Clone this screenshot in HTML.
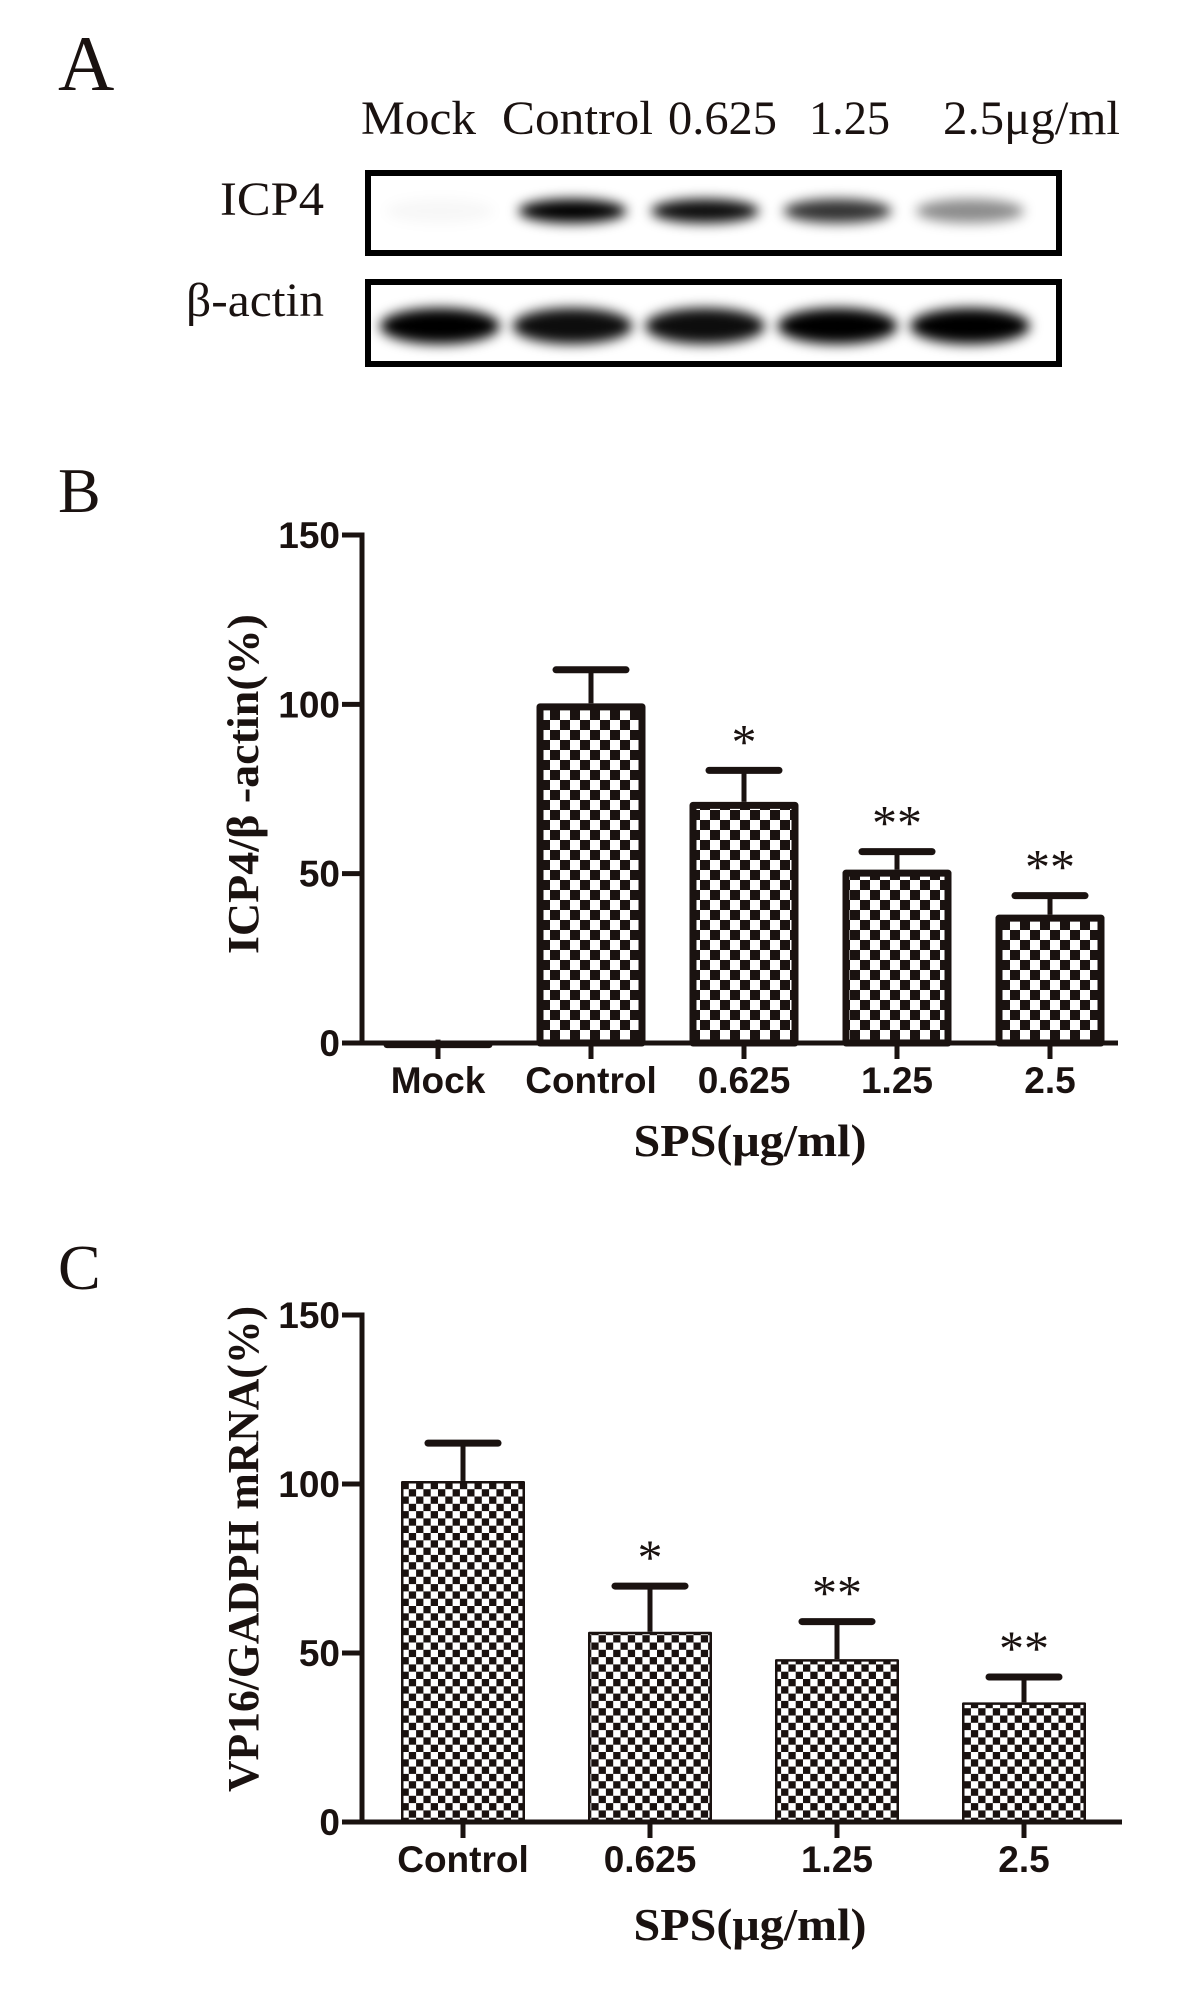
<!DOCTYPE html>
<html><head><meta charset="utf-8"><style>
html,body{margin:0;padding:0;background:#fff}
svg{display:block}
.serif{font-family:"Liberation Serif",serif}
.sans{font-family:"Liberation Sans",sans-serif;font-weight:bold}
</style></head><body>
<svg id="fig" width="1181" height="2008" viewBox="0 0 1181 2008" xmlns="http://www.w3.org/2000/svg">
<defs>
<pattern id="chkB" width="20" height="20" patternUnits="userSpaceOnUse"><rect width="20" height="20" fill="#fff"/><rect width="10" height="10" fill="#1a1210"/><rect x="10" y="10" width="10" height="10" fill="#1a1210"/></pattern>
<pattern id="chkC" width="14.6" height="14.6" patternUnits="userSpaceOnUse"><rect width="14.6" height="14.6" fill="#fff"/><rect width="7.3" height="7.3" fill="#1a1210"/><rect x="7.3" y="7.3" width="7.3" height="7.3" fill="#1a1210"/></pattern>
<filter id="blur" x="-30%" y="-80%" width="160%" height="260%"><feGaussianBlur stdDeviation="6 6"/></filter>
</defs>

<text class="serif" x="58" y="90" font-size="78" fill="#1a1210">A</text>
<g class="serif" font-size="48" fill="#1a1210">
<text x="361" y="134" textLength="115" lengthAdjust="spacingAndGlyphs">Mock</text>
<text x="502" y="134" textLength="151" lengthAdjust="spacingAndGlyphs">Control</text>
<text x="668" y="134" textLength="109" lengthAdjust="spacingAndGlyphs">0.625</text>
<text x="809" y="134" textLength="81" lengthAdjust="spacingAndGlyphs">1.25</text>
<text x="943" y="134" textLength="177" lengthAdjust="spacingAndGlyphs">2.5μg/ml</text>
<text x="220" y="215" textLength="104" lengthAdjust="spacingAndGlyphs">ICP4</text>
<text x="186" y="316" textLength="138" lengthAdjust="spacingAndGlyphs">β-actin</text>
</g>
<g id="blot"></g>

<text class="serif" x="58" y="512" font-size="64" fill="#1a1210">B</text>
<g id="chartB"></g>

<text class="serif" x="58" y="1289" font-size="64" fill="#1a1210">C</text>
<g id="chartC"></g>
</svg>
<script>
const NS="http://www.w3.org/2000/svg";
// Blot data
const blotLanes=["Mock","Control","0.625","1.25","2.5"];
const icp4Intensity=[0.03,1.0,0.95,0.8,0.45];
const actinIntensity=[1.0,0.95,0.95,1.0,1.0];
// Chart B data
const catsB=["Mock","Control","0.625","1.25","2.5"];
const valsB=[0.7,100.3,71.2,51.2,37.9];
const errB=[0.3,9.9,9.3,5.3,5.6];
const sigB=["","","*","**","**"];
const ticksB=[0,50,100,150];
// Chart C data
const catsC=["Control","0.625","1.25","2.5"];
const valsC=[100.9,56.3,48.2,35.4];
const errC=[11.2,13.5,11.1,7.5];
const sigC=["","*","**","**"];
const ticksC=[0,50,100,150];

function mk(tag,attrs,parent){const e=document.createElementNS(NS,tag);for(const k in attrs)e.setAttribute(k,attrs[k]);parent.appendChild(e);return e;}

(function(){
const g=document.getElementById('blot');
const laneX=i=>440+i*132.5;
const rows=[{y0:170,y1:256,cy:211,h:12,w:54,vals:icp4Intensity,name:'icp4'},{y0:279,y1:367,cy:326,h:18,w:60,vals:actinIntensity,name:'actin'}];
rows.forEach(r=>{
  mk('rect',{x:365,y:r.y0,width:697,height:r.y1-r.y0,fill:'#fff'},g);
  const bg=mk('g',{filter:'url(#blur)'},g);
  r.vals.forEach((v,i)=>{
    const e=mk('ellipse',{cx:laneX(i),cy:r.cy,rx:r.w,ry:r.h,fill:'#000','fill-opacity':v},bg);
    
    
  });
  const b=mk('rect',{x:368,y:r.y0+3,width:691,height:r.y1-r.y0-6,fill:'none',stroke:'#000','stroke-width':6},g);
  
  
});
})();

function drawChart(gid,o){
  const g=document.getElementById(gid);
  const y=v=>o.y0-(v/150)*(o.y0-o.y150);
  const x=i=>o.x0+i*o.step;
  const col='#1a1210';
  o.vals.forEach((v,i)=>{
    const half=o.bw/2, sw=o.bsw;
    const st=mk('line',{x1:x(i),x2:x(i),y1:y(v),y2:y(v+o.err[i]),stroke:col,'stroke-width':5},g);
    
    
    if(o.err[i]>1){
      const cp=mk('line',{x1:x(i)-35,x2:x(i)+35,y1:y(v+o.err[i]),y2:y(v+o.err[i]),stroke:col,'stroke-width':7,'stroke-linecap':'round'},g);
      
      
    }
    const h=Math.max(y(0)-y(v),1);
    const r=mk('rect',{x:x(i)-half+sw/2,y:y(v)+sw/2,width:o.bw-sw,height:Math.max(h-sw/2,0.5),fill:o.fill,stroke:col,'stroke-width':sw,'stroke-linejoin':'round'},g);
    
    
    if(o.sig[i]){
      const t=mk('text',{x:x(i),y:y(v+o.err[i])-o.sigOff,'text-anchor':'middle','font-size':50,fill:col,class:'serif'},g);
      t.textContent=o.sig[i];
      
      
    }
    const tk=mk('line',{x1:x(i),x2:x(i),y1:y(0),y2:y(0)+16,stroke:col,'stroke-width':5},g);
    
    
    const lb=mk('text',{x:x(i),y:o.labY,'text-anchor':'middle','font-size':37,fill:col,class:'sans'},g);
    lb.textContent=o.cats[i];
    
    
  });
  const ya=mk('line',{x1:o.ax,x2:o.ax,y1:y(150)-2.5,y2:y(0)+2.5,stroke:col,'stroke-width':5},g);
  
  
  const xa=mk('line',{x1:o.ax-20,x2:o.xend,y1:y(0),y2:y(0),stroke:col,'stroke-width':5},g);
  
  
  o.ticks.forEach(t=>{
    const l=mk('line',{x1:o.ax-20,x2:o.ax,y1:y(t),y2:y(t),stroke:col,'stroke-width':5},g);
    
    
    const tx=mk('text',{x:o.ax-22,y:y(t)+13,'text-anchor':'end','font-size':37,fill:col,class:'sans'},g);
    tx.textContent=t;
    
    
  });
  const yt=mk('text',{x:0,y:0,'text-anchor':'middle','font-size':44,'font-weight':'bold',fill:col,class:'serif',transform:`translate(${o.ytx},${o.yty}) rotate(-90)`,textLength:o.ytl,lengthAdjust:'spacingAndGlyphs'},g);
  yt.textContent=o.ytitle;
  
  
  const xt=mk('text',{x:750,y:o.xtY,'text-anchor':'middle','font-size':46,'font-weight':'bold',fill:col,class:'serif',textLength:233,lengthAdjust:'spacingAndGlyphs'},g);
  xt.textContent='SPS(μg/ml)';
  
  
}

drawChart('chartB',{cats:catsB,vals:valsB,err:errB,sig:sigB,ticks:ticksB,y0:1043,y150:535,x0:438,step:153,bw:109,bsw:7,fill:'url(#chkB)',ax:362,xend:1118,labY:1093,sigOff:12,ytx:258,yty:784,ytl:340,ytitle:'ICP4/β -actin(%)',xtY:1156});
drawChart('chartC',{cats:catsC,vals:valsC,err:errC,sig:sigC,ticks:ticksC,y0:1822,y150:1315,x0:463,step:187,bw:124,bsw:2.5,fill:'url(#chkC)',ax:362,xend:1122,labY:1872,sigOff:12,ytx:258,yty:1549,ytl:486,ytitle:'VP16/GADPH mRNA(%)',xtY:1940});
</script>
</body></html>
